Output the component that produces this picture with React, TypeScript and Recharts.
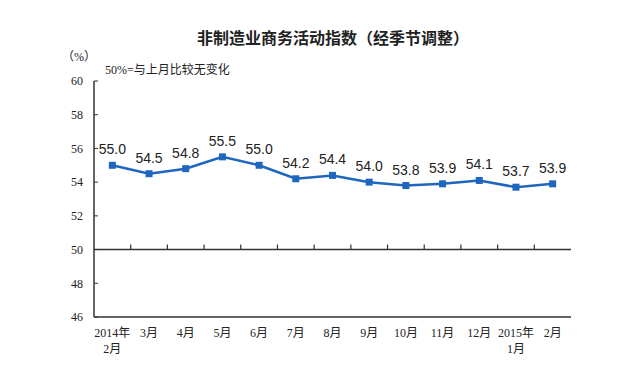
import React from 'react';
import {
  LineChart,
  Line,
  XAxis,
  YAxis,
  ReferenceLine,
  LabelList,
} from 'recharts';

// 月份（换行用 \n）
const months = [
  '2014年\n2月', '3月', '4月', '5月', '6月', '7月', '8月',
  '9月', '10月', '11月', '12月', '2015年\n1月', '2月',
];
// 非制造业商务活动指数
const values = [55.0, 54.5, 54.8, 55.5, 55.0, 54.2, 54.4, 54.0, 53.8, 53.9, 54.1, 53.7, 53.9];
const yTicks = [46, 48, 50, 52, 54, 56, 58, 60];

const data = months.map((m, i) => ({ month: m, value: values[i] }));

const axisColor = '#333';
const lineColor = '#1F66BE';
const cnFont = "'Liberation Serif', 'Noto Sans CJK SC', serif";

const MonthTick = (props: any) => {
  const { x, y, payload } = props;
  const lines = String(payload.value).split('\n');
  return (
    <text x={x} y={y} textAnchor="middle" fill="#222" fontSize={12} fontFamily={cnFont}>
      {lines.map((t: string, i: number) => (
        <tspan key={i} x={x} dy={i === 0 ? 12 : 16}>
          {t}
        </tspan>
      ))}
    </text>
  );
};

const SquareDot = (props: any) => {
  const { cx, cy } = props;
  if (cx == null || cy == null) return null;
  return <rect x={cx - 3.5} y={cy - 3.5} width={7} height={7} fill={lineColor} />;
};

export default function App() {
  return (
    <div style={{ position: 'absolute', left: 0, top: 0, width: 642, height: 378, background: '#fff' }}>
      <div
        style={{
          position: 'absolute', left: 0, width: 666, top: 26, textAlign: 'center',
          fontFamily: "'Noto Sans CJK SC', sans-serif", fontSize: 16, fontWeight: 700,
          color: '#222', lineHeight: '22px',
        }}
      >
        非制造业商务活动指数（经季节调整）
      </div>
      <div
        style={{
          position: 'absolute', left: 62, top: 49, fontFamily: cnFont, fontSize: 12,
          color: '#222', lineHeight: '16px',
        }}
      >
        （%）
      </div>
      <div
        style={{
          position: 'absolute', left: 105, top: 62, fontFamily: cnFont, fontSize: 12,
          color: '#222', lineHeight: '16px',
        }}
      >
        50%=与上月比较无变化
      </div>
      <LineChart
        width={642}
        height={378}
        data={data}
        margin={{ top: 81, right: 71, left: 54, bottom: 31 }}
      >
        <XAxis
          dataKey="month"
          scale="band"
          interval={0}
          axisLine={{ stroke: axisColor, strokeWidth: 1.5 }}
          tickLine={false}
          tick={<MonthTick />}
          height={30}
        />
        <XAxis xAxisId="top" orientation="top" dataKey="month" scale="band" height={0} tick={false} tickLine={false}
          axisLine={{ stroke: axisColor, strokeWidth: 1.5 }} />
        <YAxis
          domain={[46, 60]}
          ticks={yTicks}
          width={40}
          tickSize={-4}
          tickMargin={15}
          axisLine={{ stroke: axisColor, strokeWidth: 1.5 }}
          tickLine={{ stroke: axisColor }}
          tick={{ fill: '#222', fontSize: 12, fontFamily: cnFont }}
        />
        <YAxis yAxisId="right" orientation="right" domain={[46, 60]} width={0} tick={false} tickLine={false}
          axisLine={{ stroke: axisColor, strokeWidth: 1.5 }} />
        <ReferenceLine y={50} stroke={axisColor} strokeWidth={1.5} />
        {months.slice(1).map((m) => (
          <ReferenceLine
            key={m}
            position="start"
            ifOverflow="visible"
            segment={[{ x: m, y: 50 }, { x: m, y: 50.3 }]}
            stroke={axisColor}
            strokeWidth={1.2}
          />
        ))}
        <Line
          type="linear"
          dataKey="value"
          stroke={lineColor}
          strokeWidth={2.5}
          dot={<SquareDot />}
          activeDot={false}
          isAnimationActive={false}
        >
          <LabelList
            dataKey="value"
            position="top"
            offset={11}
            formatter={(v: any) => Number(v).toFixed(1)}
            style={{ fill: '#222', fontSize: 14, fontFamily: "'Liberation Sans', Arial, sans-serif" }}
          />
        </Line>
      </LineChart>
    </div>
  );
}
